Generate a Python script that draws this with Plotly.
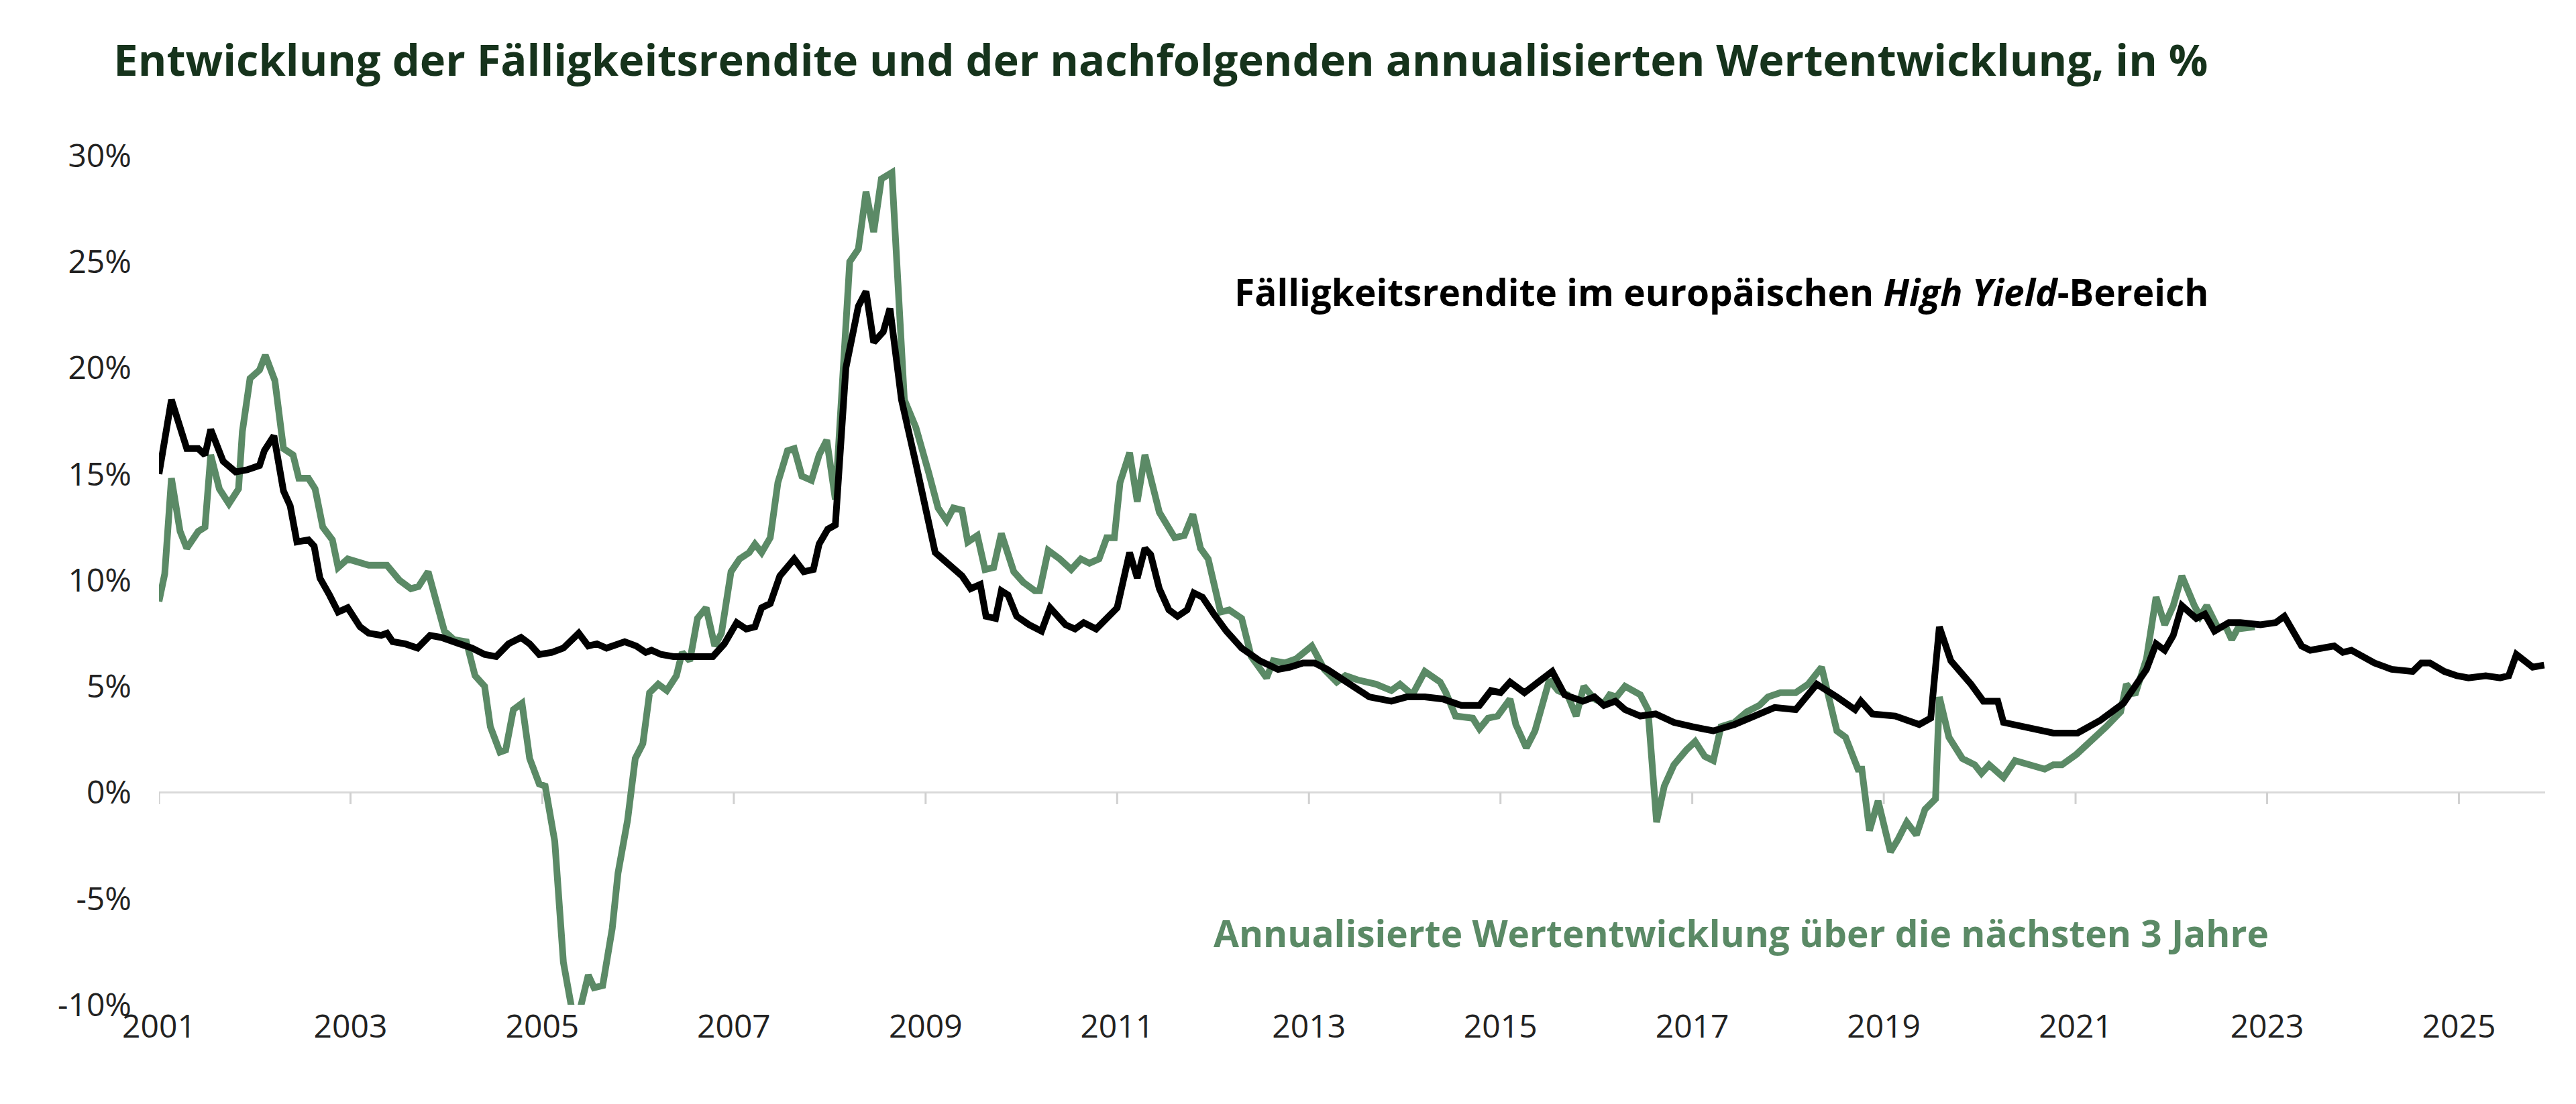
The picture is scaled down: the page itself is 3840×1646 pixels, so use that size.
import plotly.graph_objects as go
from datetime import datetime, timedelta

# decimal years and values (%)
yield_t = [2001.0,2001.13,2001.29,2001.41,2001.48,2001.54,2001.67,2001.8,2001.92,2002.05,2002.1,2002.2,2002.3,2002.37,2002.44,2002.56,2002.62,2002.68,2002.78,2002.87,2002.97,
 2003.1,2003.19,2003.32,2003.38,2003.44,2003.57,2003.7,2003.83,2003.95,2004.14,2004.27,2004.4,2004.52,2004.65,2004.78,2004.87,2004.97,2005.1,2005.22,2005.38,2005.48,2005.57,2005.67,2005.86,2005.98,
 2006.08,2006.14,2006.24,2006.37,2006.62,2006.78,2006.9,2007.03,2007.13,2007.22,2007.29,2007.38,2007.48,2007.63,2007.73,2007.83,2007.89,2007.98,2008.06,2008.17,2008.3,2008.38,2008.46,2008.56,2008.63,2008.75,2008.9,
 2009.0,2009.1,2009.38,2009.47,2009.57,2009.63,2009.73,2009.79,2009.86,2009.95,2010.08,2010.21,2010.3,2010.46,2010.56,2010.65,2010.78,2010.9,2011.0,2011.13,2011.21,2011.29,2011.35,2011.44,2011.54,2011.63,2011.73,2011.8,2011.89,
 2012.01,2012.14,2012.3,2012.49,2012.68,2012.8,2012.94,2013.06,2013.19,2013.44,2013.63,2013.86,2014.02,2014.21,2014.4,2014.59,2014.78,2014.9,2015.0,2015.1,2015.25,2015.54,2015.67,2015.86,2015.98,
 2016.08,2016.2,2016.3,2016.46,2016.62,2016.81,2017.0,2017.22,2017.44,2017.63,2017.86,2018.08,2018.3,2018.51,2018.7,2018.76,2018.88,2019.12,2019.37,2019.49,2019.58,2019.7,2019.91,2020.04,2020.19,2020.25,2020.46,2020.65,2020.77,
 2021.02,2021.26,2021.5,2021.74,2021.84,2021.93,2022.02,2022.11,2022.26,2022.35,2022.45,2022.6,2022.72,2022.93,2023.09,2023.18,2023.27,2023.36,2023.45,2023.7,2023.79,2023.88,2024.12,2024.3,2024.52,2024.61,2024.7,2024.85,2024.98,
 2025.1,2025.28,2025.43,2025.52,2025.6,2025.77,2025.89]
yield_v = [15.0,18.5,16.2,16.2,15.9,17.1,15.6,15.1,15.2,15.4,16.1,16.8,14.2,13.5,11.8,11.9,11.6,10.1,9.3,8.5,8.7,
 7.8,7.5,7.4,7.5,7.1,7.0,6.8,7.4,7.3,7.0,6.8,6.5,6.4,7.0,7.3,7.0,6.5,6.6,6.8,7.5,6.9,7.0,6.8,7.1,6.9,
 6.6,6.7,6.5,6.4,6.4,6.4,7.0,8.0,7.7,7.8,8.7,8.9,10.2,11.0,10.4,10.5,11.7,12.4,12.6,20.0,22.9,23.6,21.2,21.7,22.8,18.5,15.5,
 13.5,11.3,10.2,9.6,9.8,8.3,8.2,9.5,9.3,8.3,7.9,7.6,8.7,7.9,7.7,8.0,7.7,8.3,8.7,11.3,10.1,11.5,11.2,9.6,8.6,8.3,8.6,9.4,9.2,
 8.4,7.6,6.8,6.2,5.8,5.9,6.1,6.1,5.8,5.1,4.5,4.3,4.5,4.5,4.4,4.1,4.1,4.8,4.7,5.2,4.7,5.7,4.6,4.3,4.5,
 4.1,4.3,3.9,3.6,3.7,3.3,3.1,2.9,3.2,3.6,4.0,3.9,5.1,4.5,3.9,4.3,3.7,3.6,3.2,3.5,7.8,6.2,5.1,4.3,4.3,3.3,3.1,2.9,2.8,
 2.8,3.4,4.2,5.8,7.0,6.7,7.4,8.8,8.2,8.4,7.6,8.0,8.0,7.9,8.0,8.3,7.6,6.9,6.7,6.9,6.6,6.7,6.1,5.8,5.7,6.1,6.1,5.7,5.5,
 5.4,5.5,5.4,5.5,6.5,5.9,6.0]

perf_t = [2001.0,2001.06,2001.13,2001.22,2001.29,2001.41,2001.48,2001.54,2001.63,2001.73,2001.83,2001.87,2001.95,2002.05,2002.11,2002.21,2002.3,2002.4,2002.46,2002.56,2002.63,2002.71,2002.81,2002.87,2002.97,
 2003.06,2003.19,2003.38,2003.51,2003.63,2003.71,2003.81,2003.89,2003.98,2004.08,2004.21,2004.3,2004.4,2004.46,2004.56,2004.62,2004.7,2004.79,2004.87,2004.97,2005.03,2005.13,2005.22,2005.32,2005.4,2005.48,2005.54,2005.63,2005.73,2005.79,2005.89,2005.97,
 2006.05,2006.12,2006.21,2006.3,2006.4,2006.46,2006.54,2006.62,2006.71,2006.8,2006.87,2006.97,2007.06,2007.16,2007.22,2007.29,2007.38,2007.46,2007.56,2007.63,2007.71,2007.81,2007.89,2007.97,2008.06,2008.21,2008.3,2008.38,2008.46,2008.54,2008.65,2008.78,2008.9,
 2009.03,2009.13,2009.22,2009.29,2009.38,2009.44,2009.54,2009.62,2009.71,2009.79,2009.92,2010.02,2010.14,2010.19,2010.28,2010.4,2010.52,2010.62,2010.71,2010.81,2010.89,2010.97,2011.03,2011.13,2011.21,2011.29,2011.44,2011.6,2011.7,2011.79,2011.87,2011.95,
 2012.08,2012.17,2012.3,2012.4,2012.56,2012.63,2012.75,2012.87,2013.03,2013.16,2013.29,2013.38,2013.51,2013.7,2013.86,2013.95,2014.08,2014.21,2014.37,2014.43,2014.53,2014.71,2014.78,2014.87,2014.97,
 2015.1,2015.16,2015.27,2015.36,2015.51,2015.6,2015.7,2015.79,2015.87,2015.98,2016.08,2016.14,2016.21,2016.3,2016.46,2016.54,2016.63,2016.71,2016.81,2016.94,2017.03,2017.13,2017.22,2017.3,2017.44,2017.57,2017.7,2017.79,2017.92,
 2018.08,2018.21,2018.35,2018.51,2018.6,2018.73,2018.77,2018.85,2018.94,2019.07,2019.15,2019.24,2019.34,2019.43,2019.54,2019.58,2019.68,2019.82,2019.95,2020.02,2020.1,2020.25,2020.37,2020.55,2020.68,2020.77,2020.86,
 2021.01,2021.16,2021.32,2021.47,2021.53,2021.62,2021.74,2021.84,2021.93,2022.02,2022.11,2022.24,2022.3,2022.37,2022.48,2022.57,2022.63,2022.69,2022.87]
perf_v = [9.0,10.3,14.8,12.3,11.5,12.3,12.5,15.9,14.3,13.6,14.3,17.0,19.5,19.9,20.6,19.4,16.2,15.9,14.8,14.8,14.3,12.5,11.9,10.6,11.0,
 10.9,10.7,10.7,10.0,9.6,9.7,10.4,9.0,7.6,7.2,7.1,5.5,5.0,3.1,1.9,2.0,3.9,4.2,1.6,0.4,0.3,-2.3,-8.0,-10.5,-10.1,-8.6,-9.2,-9.1,-6.4,-3.8,-1.3,1.6,
 2.3,4.7,5.1,4.8,5.5,6.6,6.2,8.2,8.7,6.9,7.5,10.4,11.0,11.3,11.7,11.3,12.0,14.6,16.1,16.2,14.9,14.7,15.9,16.6,13.8,25.0,25.6,28.3,26.4,28.9,29.2,18.5,17.2,
 15.1,13.4,12.8,13.4,13.3,11.8,12.1,10.5,10.6,12.2,10.4,9.9,9.5,9.5,11.4,11.0,10.5,11.0,10.8,11.0,12.0,12.0,14.6,16.0,13.7,15.9,13.2,12.0,12.1,13.1,11.5,11.0,
 8.5,8.6,8.2,6.4,5.4,6.2,6.1,6.3,6.9,5.8,5.2,5.5,5.3,5.1,4.8,5.1,4.6,5.7,5.2,4.7,3.6,3.5,3.0,3.5,3.6,
 4.4,3.2,2.1,2.9,5.3,4.8,4.6,3.6,5.0,4.4,4.2,4.6,4.5,5.0,4.6,3.9,-1.4,0.3,1.3,2.0,2.4,1.7,1.5,3.1,3.3,3.8,4.1,4.5,4.7,
 4.7,5.1,5.9,2.9,2.6,1.1,1.1,-1.8,-0.4,-2.8,-2.2,-1.4,-2.0,-0.8,-0.3,4.5,2.6,1.6,1.3,0.9,1.3,0.7,1.5,1.3,1.1,1.3,1.3,
 1.8,2.4,3.1,3.8,5.1,4.6,6.3,9.2,7.9,8.8,10.2,8.8,8.3,8.8,7.8,7.8,7.2,7.7,7.8]

tick_years = list(range(2001, 2026, 2))
y_ticks = [-10, -5, 0, 5, 10, 15, 20, 25, 30]

def to_date(d):
    y = int(d)
    start = datetime(y, 1, 1)
    return start + timedelta(days=(d - y) * 365.25)

GREEN = "#5b8a66"
FONT = "Open Sans"

fig = go.Figure()
fig.add_trace(go.Scatter(x=[to_date(t) for t in perf_t], y=perf_v, mode="lines",
                         line=dict(color=GREEN, width=10), showlegend=False))
fig.add_trace(go.Scatter(x=[to_date(t) for t in yield_t], y=yield_v, mode="lines",
                         line=dict(color="black", width=10), showlegend=False))

for yr in tick_years:
    fig.add_shape(type="line", xref="x", yref="y", x0=datetime(yr, 1, 1), x1=datetime(yr, 1, 1),
                  y0=0, y1=-0.55, line=dict(color="#d0d0d0", width=3))

fig.add_annotation(x=0.655, xref="paper", y=23.6, yref="y", showarrow=False, xanchor="center",
                   text="<b>Fälligkeitsrendite im europäischen <i>High Yield</i>-Bereich</b>",
                   font=dict(family=FONT, size=55, color="black"))
fig.add_annotation(x=0.663, xref="paper", y=-6.6, yref="y", showarrow=False, xanchor="center",
                   text="<b>Annualisierte Wertentwicklung über die nächsten 3 Jahre</b>",
                   font=dict(family=FONT, size=55, color=GREEN))

fig.update_layout(
    width=3840, height=1646,
    paper_bgcolor="white", plot_bgcolor="white",
    margin=dict(l=229, r=54, t=224, b=156),
    title=dict(text="<b>Entwicklung der Fälligkeitsrendite und der nachfolgenden annualisierten Wertentwicklung, in %</b>",
               x=0.042, xanchor="left", y=0.95, yanchor="middle",
               font=dict(family=FONT, size=65, color="#16331c")),
    font=dict(family=FONT),
    xaxis=dict(range=[datetime(2001, 1, 1), to_date(2025.9)], tickvals=[datetime(y, 1, 1) for y in tick_years],
               ticktext=[str(y) for y in tick_years], showgrid=False, zeroline=False, showline=False,
               tickfont=dict(family=FONT, size=48, color="#222"), ticks=""),
    yaxis=dict(range=[-10, 30], tickvals=y_ticks, ticktext=[f"{v}%" for v in y_ticks],
               showgrid=False, zeroline=True, zerolinecolor="#d9d9d9", zerolinewidth=3,
               tickfont=dict(family=FONT, size=48, color="#222"), ticks="", ticklabelstandoff=40),
)
fig.write_html("out.html")
